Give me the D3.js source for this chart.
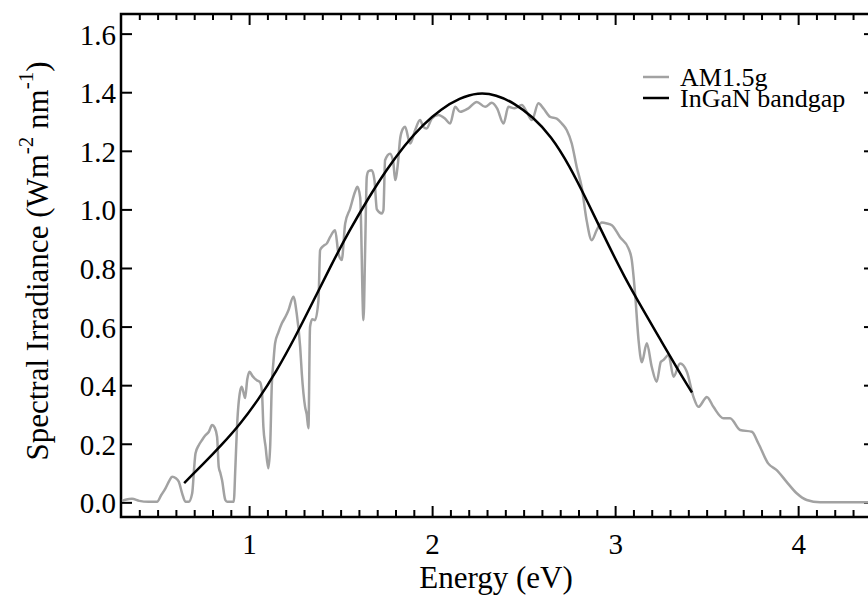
<!DOCTYPE html>
<html>
<head>
<meta charset="utf-8">
<script src="https://cdn.jsdelivr.net/npm/d3@7"></script>
<style>
body { margin: 0; background: #fff; }
svg text { font-family: "Liberation Serif", "Times New Roman", serif; fill: #000; }
</style>
</head>
<body>
<div id="chart"></div>
<script>
// AM1.5g spectrum (energy in eV, irradiance in W m-2 nm-1)
var amEnergy = [0.306,0.33,0.36,0.40,0.45,0.497,0.52,0.543,0.565,0.579,0.60,0.616,0.634,0.652,0.67,0.689,0.70,0.707,0.725,0.743,0.76,0.78,0.798,0.812,0.825,0.834,0.843,0.852,0.87,0.88,0.916,0.925,0.934,0.952,0.96,0.978,0.99,1.002,1.02,1.042,1.06,1.07,1.078,1.09,1.105,1.115,1.124,1.133,1.142,1.16,1.179,1.2,1.215,1.242,1.26,1.279,1.288,1.306,1.315,1.324,1.333,1.345,1.36,1.379,1.388,1.405,1.425,1.443,1.47,1.488,1.506,1.525,1.552,1.579,1.592,1.607,1.625,1.634,1.643,1.652,1.67,1.685,1.698,1.725,1.734,1.743,1.77,1.788,1.798,1.812,1.825,1.84,1.852,1.88,1.907,1.934,1.952,1.97,1.998,2.034,2.07,2.098,2.126,2.153,2.198,2.244,2.29,2.326,2.355,2.39,2.417,2.45,2.49,2.517,2.545,2.581,2.608,2.645,2.681,2.709,2.736,2.763,2.79,2.817,2.845,2.872,2.9,2.927,2.955,2.982,3.027,3.073,3.091,3.109,3.128,3.146,3.173,3.2,3.227,3.25,3.264,3.292,3.319,3.355,3.392,3.428,3.455,3.492,3.501,3.537,3.592,3.628,3.683,3.747,3.783,3.836,3.883,3.937,3.992,4.047,4.12,4.42];
var amIrradiance = [0.005,0.010,0.012,0.005,0.002,0.002,0.025,0.048,0.075,0.087,0.082,0.070,0.031,0.002,0.002,0.031,0.120,0.167,0.195,0.213,0.228,0.241,0.264,0.255,0.224,0.121,0.100,0.076,0.008,0.002,0.002,0.120,0.258,0.383,0.395,0.356,0.420,0.446,0.430,0.417,0.410,0.380,0.258,0.190,0.116,0.190,0.400,0.480,0.543,0.580,0.611,0.635,0.656,0.702,0.645,0.531,0.440,0.326,0.300,0.253,0.599,0.625,0.622,0.690,0.861,0.875,0.884,0.906,0.929,0.850,0.827,0.952,1.003,1.060,1.077,1.040,0.622,0.861,1.111,1.130,1.134,1.100,1.000,0.986,0.998,1.168,1.190,1.160,1.100,1.150,1.240,1.275,1.282,1.225,1.270,1.305,1.282,1.276,1.310,1.322,1.310,1.293,1.350,1.333,1.345,1.367,1.350,1.364,1.345,1.293,1.350,1.345,1.356,1.333,1.305,1.362,1.345,1.316,1.310,1.293,1.270,1.225,1.145,1.077,0.960,0.895,0.930,0.955,0.952,0.946,0.905,0.867,0.827,0.713,0.554,0.478,0.543,0.463,0.412,0.480,0.486,0.503,0.429,0.474,0.446,0.360,0.326,0.355,0.360,0.326,0.287,0.287,0.247,0.241,0.201,0.133,0.110,0.070,0.031,0.008,0.000,0.000];

// InGaN bandgap curve
var gapEnergy = [0.645,0.75,0.85,0.95,1.05,1.15,1.25,1.35,1.45,1.55,1.65,1.75,1.85,1.95,2.05,2.15,2.25,2.35,2.45,2.55,2.65,2.75,2.85,2.95,3.05,3.15,3.25,3.35,3.42];
var gapIrradiance = [0.066,0.131,0.196,0.266,0.350,0.448,0.562,0.686,0.812,0.930,1.037,1.135,1.220,1.290,1.343,1.380,1.399,1.392,1.362,1.316,1.250,1.150,1.025,0.895,0.770,0.660,0.553,0.445,0.375];

var seriesNames = ["AM1.5g", "InGaN bandgap"];
var seriesColors = ["#a2a2a2", "#000000"];
var xTickLabels = [1, 2, 3, 4];
var yTickLabels = [0.0, 0.2, 0.4, 0.6, 0.8, 1.0, 1.2, 1.4, 1.6];

var width = 868, height = 601;
var pLeft = 121, pRight = 875, pTop = 14, pBottom = 517;

var svg = d3.select("#chart").append("svg")
  .attr("width", width)
  .attr("height", height);

var x = d3.scaleLinear().domain([0.3, 4.42]).range([pLeft, pRight]);
var y = d3.scaleLinear().domain([-0.05, 1.667]).range([pBottom, pTop]);

var minorX = d3.range(4, 45).map(function(d) { return d / 10; })
  .filter(function(d) { return Math.abs(d - Math.round(d)) > 1e-6; });

function styleAxis(g) {
  g.select(".domain").remove();
  g.attr("font-family", null).attr("font-size", null);
  g.selectAll("line").attr("stroke", "#000").attr("stroke-width", 2);
  g.selectAll("text").style("font-size", "29px");
}

// bottom axis
svg.append("g").attr("transform", "translate(0," + pBottom + ")")
  .call(d3.axisBottom(x).tickValues(minorX).tickSize(-7).tickFormat(""))
  .call(styleAxis);
svg.append("g").attr("transform", "translate(0," + pBottom + ")")
  .call(d3.axisBottom(x).tickValues(xTickLabels).tickSize(-11).tickPadding(16).tickFormat(d3.format("d")))
  .call(styleAxis);

// top axis
svg.append("g").attr("transform", "translate(0," + pTop + ")")
  .call(d3.axisTop(x).tickValues(minorX).tickSize(-6).tickFormat(""))
  .call(styleAxis);
svg.append("g").attr("transform", "translate(0," + pTop + ")")
  .call(d3.axisTop(x).tickValues(xTickLabels).tickSize(-11).tickFormat(""))
  .call(styleAxis);

// left axis
svg.append("g").attr("transform", "translate(" + pLeft + ",0)")
  .call(d3.axisLeft(y).tickValues(yTickLabels).tickSize(-11).tickPadding(5).tickFormat(d3.format(".1f")))
  .call(styleAxis)
  .selectAll("text").attr("dy", "0.36em");

// right axis
svg.append("g").attr("transform", "translate(" + pRight + ",0)")
  .call(d3.axisRight(y).tickValues(yTickLabels).tickSize(-11).tickFormat(""))
  .call(styleAxis);

// frame
svg.append("rect")
  .attr("x", pLeft).attr("y", pTop)
  .attr("width", pRight - pLeft).attr("height", pBottom - pTop)
  .attr("fill", "none").attr("stroke", "#000").attr("stroke-width", 2.5);

var line = d3.line()
  .x(function(d) { return x(d[0]); })
  .y(function(d) { return y(d[1]); })
  .curve(d3.curveMonotoneX);

var amData = amEnergy.map(function(e, i) { return [e, amIrradiance[i]]; });
var gapData = gapEnergy.map(function(e, i) { return [e, gapIrradiance[i]]; });

svg.append("path").datum(amData)
  .attr("d", line).attr("fill", "none")
  .attr("stroke", seriesColors[0]).attr("stroke-width", 2.5)
  .attr("stroke-linejoin", "round");

svg.append("path").datum(gapData)
  .attr("d", line.curve(d3.curveBasis)).attr("fill", "none")
  .attr("stroke", seriesColors[1]).attr("stroke-width", 2.5);

// legend
var legend = svg.append("g").attr("transform", "translate(643,77)");
seriesNames.forEach(function(name, i) {
  legend.append("line")
    .attr("x1", 0).attr("x2", 26)
    .attr("y1", i * 21).attr("y2", i * 21)
    .attr("stroke", seriesColors[i]).attr("stroke-width", 2.5);
  legend.append("text")
    .attr("x", 37).attr("y", i * 21 + 9)
    .style("font-size", "26px")
    .text(name);
});

// axis titles
svg.append("text")
  .attr("x", (pLeft + pRight) / 2 - 2).attr("y", 588)
  .attr("text-anchor", "middle")
  .style("font-size", "31px")
  .text("Energy (eV)");

var yt = svg.append("text")
  .attr("transform", "translate(48,261) rotate(-90)")
  .attr("text-anchor", "middle")
  .style("font-size", "31px");
yt.append("tspan").text("Spectral Irradiance (Wm");
yt.append("tspan").attr("dy", -15).style("font-size", "21px").text("-2");
yt.append("tspan").attr("dy", 15).text(" nm");
yt.append("tspan").attr("dy", -15).style("font-size", "21px").text("-1");
yt.append("tspan").attr("dy", 15).text(")");
</script>
</body>
</html>
